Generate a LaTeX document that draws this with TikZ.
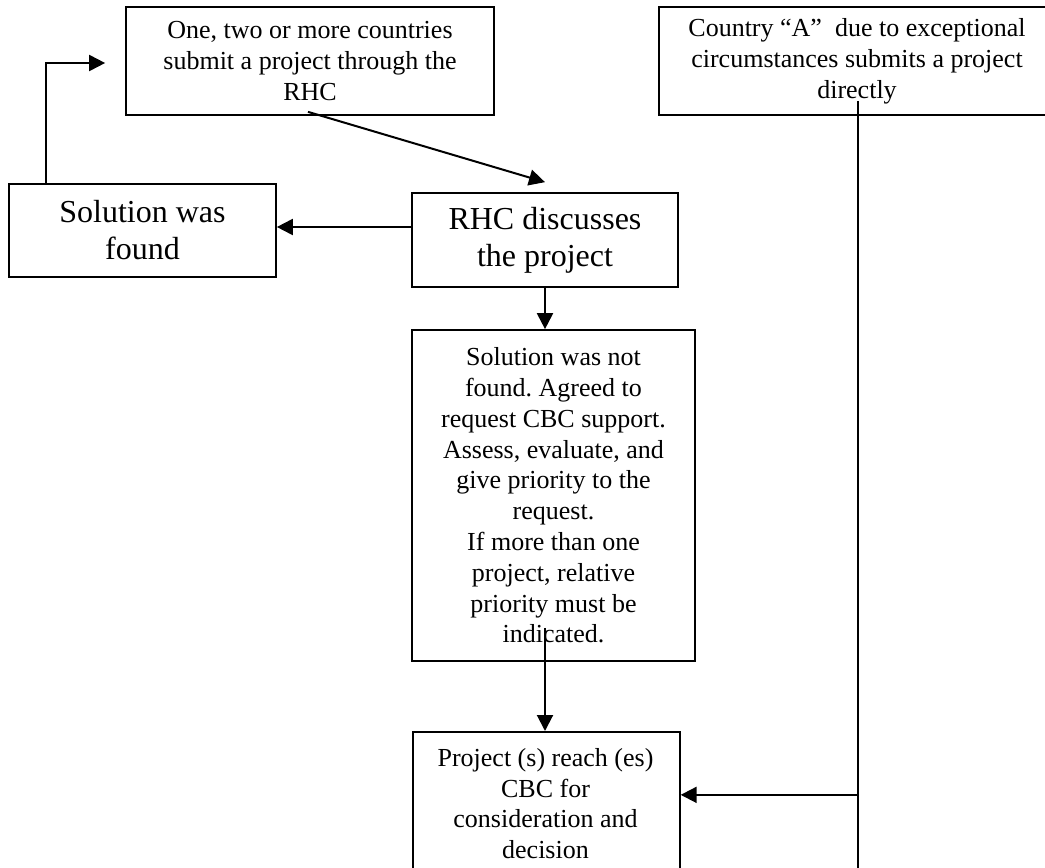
\documentclass[tikz,border=0pt]{standalone}
\usepackage{fontspec}
\setmainfont{Liberation Serif}
\usetikzlibrary{arrows.meta,calc}
\frenchspacing
\begin{document}
\begin{tikzpicture}[x=1pt,y=-1pt,
  box/.style={draw=black,line width=1.7pt,rectangle,inner sep=2pt,align=center,
    font=\fontsize{26}{30.8}\selectfont},
  bigbox/.style={box,font=\fontsize{32}{37}\selectfont},
  txt/.style={inner sep=0pt,align=center,font=\fontsize{26}{30.8}\selectfont},
  arr/.style={line width=2pt,-{Triangle[length=16pt,width=16pt]}},
  plain/.style={line width=1.7pt}]
\clip (0,0) rectangle (1045,868);
\fill[white] (0,0) rectangle (1045,868);
% boxes
\node[box,minimum width=368,minimum height=108] (A) at (310,61)
  {One, two or more countries\\submit a project through the\\RHC};
\node[box,minimum width=396,minimum height=108] (B) at (857,61)
  {Country “A”\ \ due to exceptional\\circumstances submits a project\\directly};
\node[bigbox,minimum width=267,minimum height=93] (C) at (142.5,230.5)
  {Solution was\\found};
\node[bigbox,minimum width=266,minimum height=94] (D) at (545,240)
  {RHC discusses\\the project};
\node[box,minimum width=283,minimum height=331] (E) at (553.5,495.5)
  {Solution was not\\found. Agreed to\\request CBC support.\\Assess, evaluate, and\\give priority to the\\request.\\If more than one\\project, relative\\priority must be\\indicated.};
\node[box,minimum width=267,minimum height=240,anchor=north west] (F) at (412,731) {};
\node[txt,anchor=north] (Ft) at (545.5,748)
  {Project (s) reach (es)\\CBC for\\consideration and\\decision};
% connectors
\draw[arr] ($(A.south)+(-2,-4)$) -- ($(D.north)+(0,-10)$);
\coordinate (dc) at ($(D.west)+(0,-13)$);
\draw[arr] (dc) -- (dc -| C.east);
\draw[arr] ($(C.north west)+(38,0)$) |- ($(A.west)+(-20,2)$);
\draw[arr] (D.south) -- (D.south |- E.north);
\draw[arr] ($(D.south |- E.south)+(0,-34)$) -- (D.south |- F.north);
\coordinate (j) at ($(B.south)+(1,679)$);
\draw[plain] ($(B.south)+(1,-15)$) -- ($(B.south)+(1,790)$);
\draw[arr] (j) -- (j -| F.east);
\end{tikzpicture}
\end{document}
